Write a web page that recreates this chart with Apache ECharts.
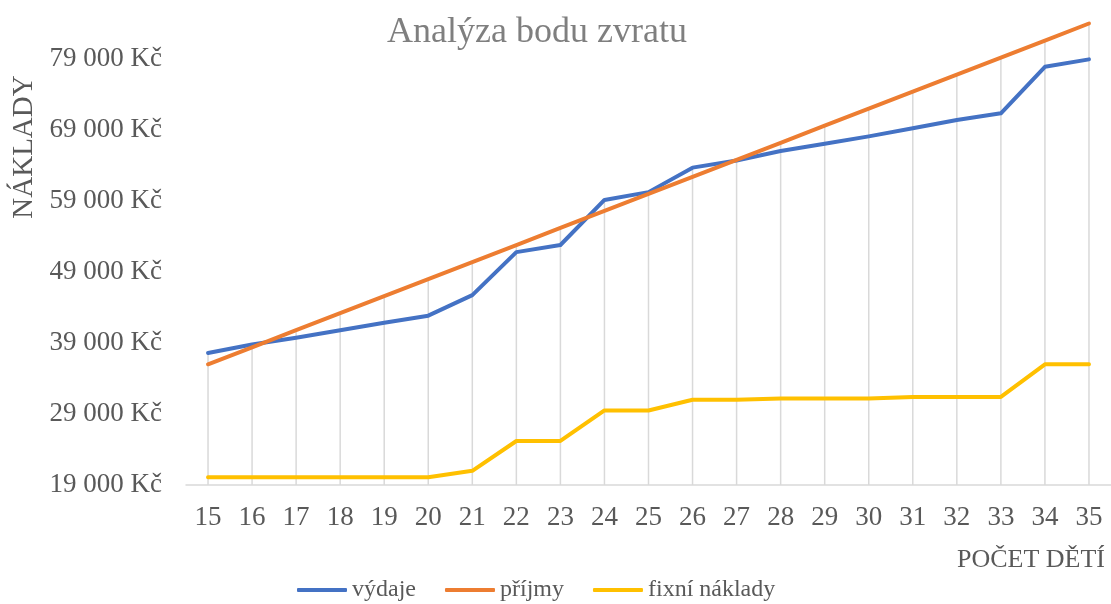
<!DOCTYPE html>
<html>
<head>
<meta charset="utf-8">
<script src="https://cdn.jsdelivr.net/npm/echarts@6/dist/echarts.min.js"></script>
<style>
html,body{margin:0;padding:0;background:#fff;}
#chart{width:1111px;height:604px;}
</style>
</head>
<body>
<div id="chart"></div>
<script>
var categories = ['15','16','17','18','19','20','21','22','23','24','25','26','27','28','29','30','31','32','33','34','35'];
var vydaje = [37600, 38800, 39750, 40800, 41850, 42850, 45750, 51800, 52800, 59150, 60250, 63700, 64700, 66050, 67050, 68100, 69250, 70400, 71350, 77900, 78950];
var prijmy = [36000, 38400, 40800, 43200, 45600, 48000, 50400, 52800, 55200, 57600, 60000, 62400, 64800, 67200, 69600, 72000, 74400, 76800, 79200, 81600, 84000];
var fixni = [20100, 20100, 20100, 20100, 20100, 20100, 21000, 25200, 25200, 29500, 29500, 31000, 31000, 31200, 31200, 31200, 31400, 31400, 31400, 36000, 36000];
var seriesNames = ['výdaje', 'příjmy', 'fixní náklady'];
var titleText = 'Analýza bodu zvratu';
var yAxisName = 'NÁKLADY';
var xAxisName = 'POČET DĚTÍ';
var yMin = 19000, yMax = 85000, yInterval = 10000;

// drop lines: from the highest series value at each category down to the axis
var dropLines = categories.map(function (c, i) {
  return Math.max(vydaje[i], prijmy[i], fixni[i]);
});

var FONT = "'Liberation Serif','Times New Roman',serif";
var chart = echarts.init(document.getElementById('chart'), null, {renderer: 'canvas'});
chart.setOption({
  animation: false,
  backgroundColor: '#fff',
  title: {
    text: titleText,
    left: 382,
    top: 10,
    textStyle: {fontFamily: FONT, fontSize: 36, fontWeight: 'normal', color: '#7f7f7f'}
  },
  legend: {
    data: seriesNames,
    left: 297,
    top: 578,
    padding: 0,
    itemGap: 29,
    itemWidth: 50,
    itemHeight: 4,
    icon: 'roundRect',
    textStyle: {fontFamily: FONT, fontSize: 24, color: '#595959'}
  },
  grid: {left: 186, right: 0, top: 16.4, bottom: 119, containLabel: false},
  xAxis: {
    type: 'category',
    data: categories,
    boundaryGap: true,
    axisLine: {show: true, lineStyle: {color: '#d9d9d9', width: 1.5}},
    axisTick: {show: false},
    splitLine: {show: false},
    axisLabel: {fontFamily: FONT, fontSize: 27, color: '#595959', margin: 19, interval: 0}
  },
  yAxis: {
    type: 'value',
    min: yMin,
    max: yMax,
    interval: yInterval,
    axisLine: {show: false},
    axisTick: {show: false},
    splitLine: {show: false},
    axisLabel: {
      fontFamily: FONT, fontSize: 27, color: '#595959', margin: 24,
      showMaxLabel: false,
      formatter: function (v) { return Math.round(v / 1000) + ' 000 Kč'; }
    }
  },
  graphic: [
    {type: 'text', x: 24, y: 147, rotation: Math.PI / 2,
     style: {text: yAxisName, fontFamily: FONT, fontSize: 29, fill: '#595959', align: 'center', verticalAlign: 'middle'}},
    {type: 'text', x: 1105, y: 560,
     style: {text: xAxisName, fontFamily: FONT, fontSize: 26, fill: '#595959', align: 'right', verticalAlign: 'middle'}}
  ],
  series: [
    {name: 'drop', type: 'bar', data: dropLines, barWidth: 1.5, z: 1, silent: true,
     itemStyle: {color: '#d9d9d9'}, clip: true},
    {name: seriesNames[0], type: 'line', data: vydaje, symbol: 'none', z: 3,
     lineStyle: {color: '#4472C4', width: 4, cap: 'round', join: 'round'}, itemStyle: {color: '#4472C4'}},
    {name: seriesNames[1], type: 'line', data: prijmy, symbol: 'none', z: 3,
     lineStyle: {color: '#ED7D31', width: 4, cap: 'round', join: 'round'}, itemStyle: {color: '#ED7D31'}},
    {name: seriesNames[2], type: 'line', data: fixni, symbol: 'none', z: 3,
     lineStyle: {color: '#FFC000', width: 4, cap: 'round', join: 'round'}, itemStyle: {color: '#FFC000'}}
  ]
});
</script>
</body>
</html>
